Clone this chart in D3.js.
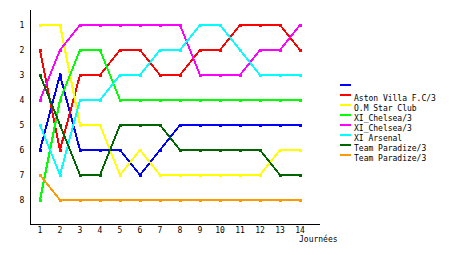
<!DOCTYPE html>
<html lang="fr">

<head>
    <meta charset="utf-8">
    <script src='https://d3js.org/d3.v7.min.js'></script>
    <style>
        body { margin: 0; background: #fff; }
        text { font-family: "DejaVu Sans Mono", monospace; font-size: 8px; fill: #000; }
    </style>
</head>

<body>

    <script>

        var days = [1, 2, 3, 4, 5, 6, 7, 8, 9, 10, 11, 12, 13, 14];
        var rankTicks = [1, 2, 3, 4, 5, 6, 7, 8];

        var teams = ["", "Aston Villa F.C/3", "O.M Star Club", "XI_Chelsea/3",
            "XI_Chelsea/3", "XI Arsenal", "Team Paradize/3", "Team Paradize/3"];
        var colors = ["#0000ff", "#ff0000", "#ffff00", "#00ff00",
            "#ff00ff", "#00ffff", "#006600", "#ff9900"];

        var blue = [6, 3, 6, 6, 6, 7, 6, 5, 5, 5, 5, 5, 5, 5];
        var red = [2, 6, 3, 3, 2, 2, 3, 3, 2, 2, 1, 1, 1, 2];
        var yellow = [1, 1, 5, 5, 7, 6, 7, 7, 7, 7, 7, 7, 6, 6];
        var lime = [8, 4, 2, 2, 4, 4, 4, 4, 4, 4, 4, 4, 4, 4];
        var magenta = [4, 2, 1, 1, 1, 1, 1, 1, 3, 3, 3, 2, 2, 1];
        var cyan = [5, 7, 4, 4, 3, 3, 2, 2, 1, 1, 2, 3, 3, 3];
        var darkGreen = [3, 5, 7, 7, 5, 5, 5, 6, 6, 6, 6, 6, 7, 7];
        var orange = [7, 8, 8, 8, 8, 8, 8, 8, 8, 8, 8, 8, 8, 8];

        var series = [blue, red, yellow, lime, magenta, cyan, darkGreen, orange];

        var width = 460,
            height = 255;

        var x = d3.scaleLinear().domain([0.5, 15]).range([30, 320]);
        var y = d3.scaleLinear().domain([0, 9]).range([0, 225]);

        var svg = d3.select("body").append("svg")
            .attr("width", width)
            .attr("height", height);

        // axes lines
        svg.append("line")
            .attr("x1", 30.5).attr("x2", 30.5)
            .attr("y1", y(0.4)).attr("y2", y(9) - 0.5)
            .attr("stroke", "#000").attr("stroke-width", 1);
        svg.append("line")
            .attr("x1", 30).attr("x2", 320)
            .attr("y1", y(9) - 0.5).attr("y2", y(9) - 0.5)
            .attr("stroke", "#000").attr("stroke-width", 1);

        svg.selectAll(".ylab")
            .data(rankTicks)
            .enter().append("text")
            .attr("x", 22)
            .attr("y", function (d) { return y(d) + 3; })
            .attr("text-anchor", "middle")
            .text(function (d) { return d; });

        svg.selectAll(".xlab")
            .data(days)
            .enter().append("text")
            .attr("x", function (d) { return x(d); })
            .attr("y", 233)
            .attr("text-anchor", "middle")
            .text(function (d) { return d; });

        svg.append("text")
            .attr("x", 299)
            .attr("y", 242)
            .text("Journées");

        var line = d3.line()
            .x(function (d, i) { return x(days[i]); })
            .y(function (d) { return y(d); });

        series.forEach(function (s, k) {
            var g = svg.append("g");
            g.append("path")
                .attr("d", line(s))
                .attr("fill", "none")
                .attr("stroke", colors[k])
                .attr("stroke-width", 2)
                .attr("shape-rendering", "crispEdges");
            g.selectAll("rect")
                .data(s)
                .enter().append("rect")
                .attr("x", function (d, i) { return x(days[i]) - 1.5; })
                .attr("y", function (d) { return y(d) - 1.5; })
                .attr("width", 3)
                .attr("height", 3)
                .attr("fill", colors[k])
                .attr("shape-rendering", "crispEdges");
        });

        // legend
        var leg = svg.selectAll(".leg")
            .data(teams)
            .enter().append("g")
            .attr("transform", function (d, i) { return "translate(340," + (85 + i * 10) + ")"; });
        leg.append("rect")
            .attr("x", 0).attr("y", -1)
            .attr("width", 11).attr("height", 2)
            .attr("fill", function (d, i) { return colors[i]; });
        leg.append("text")
            .attr("x", 14)
            .attr("y", 6)
            .text(function (d) { return d; });

    </script>

</body>

</html>
